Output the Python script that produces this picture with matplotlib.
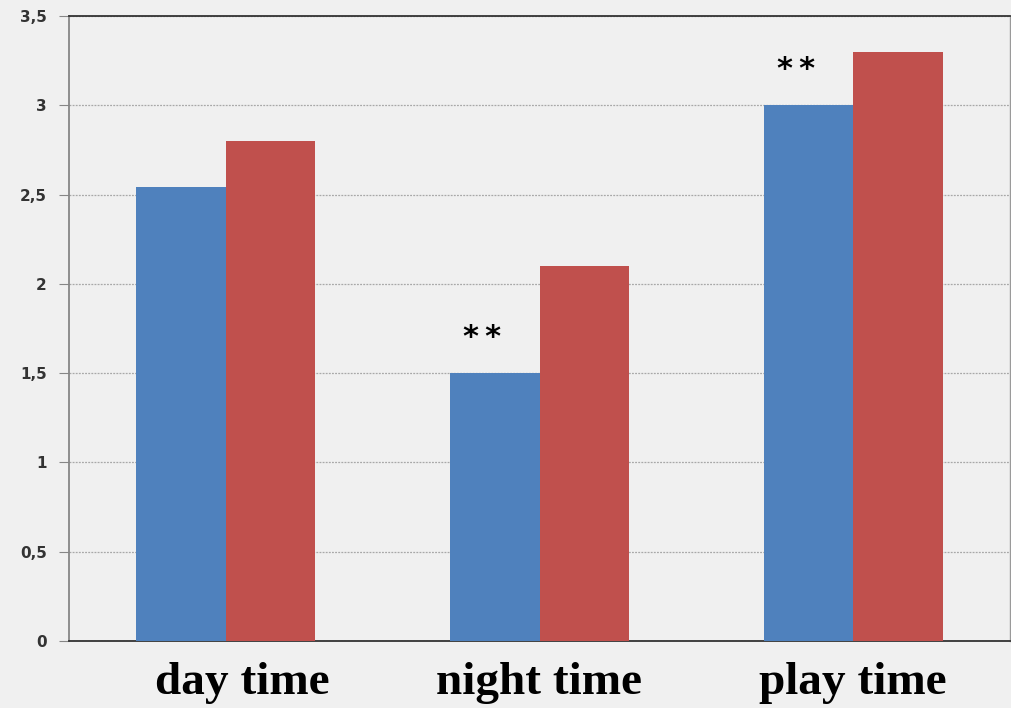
import matplotlib
matplotlib.use("Agg")
import matplotlib.pyplot as plt
import matplotlib.transforms as mtransforms
import numpy as np

# data
categories = ["day time", "night time", "play time"]
blue_vals = [2.54, 1.50, 3.00]
red_vals = [2.80, 2.10, 3.30]
stars = ["", "**", "**"]
yticks = [0, 0.5, 1, 1.5, 2, 2.5, 3, 3.5]
ytick_labels = ["0", "0,5", "1", "1,5", "2", "2,5", "3", "3,5"]

bg = "#f0f0f0"
fig = plt.figure(figsize=(10.12, 7.08), dpi=100, facecolor=bg)
ax = fig.add_axes([69 / 1012, 67 / 708, 941 / 1012, 625 / 708], facecolor=bg)

x = np.arange(len(categories))
w = 0.285
ax.bar(x - w / 2, blue_vals, w, color="#4f81bd", zorder=3)
ax.bar(x + w / 2, red_vals, w, color="#c0504d", zorder=3)

# significance stars over the blue bars
for i, s in enumerate(stars):
    if s:
        ax.text(x[i] - w / 2 - 0.04, blue_vals[i] + 0.2, "\u2009".join(s), ha="center", va="center",
                fontsize=22, fontweight="bold", color="black", zorder=4)

ax.set_xlim(-0.5, len(categories) - 0.5)
ax.set_ylim(0, 3.5)
ax.set_yticks(yticks)
ax.set_yticklabels(ytick_labels, fontsize=11, fontweight="bold", color="#333333")
ax.tick_params(axis="y", direction="out", length=7, color="#868686", pad=9)
ax.set_xticks(x)
ax.set_xticklabels(categories, fontsize=34, fontweight="bold",
                   family=["Liberation Serif", "DejaVu Serif"])
ax.tick_params(axis="x", length=0, pad=15)

# the first category label sits a bit right of its group in the reference
lab0 = ax.get_xticklabels()[0]
lab0.set_transform(lab0.get_transform() + mtransforms.ScaledTranslation(0.16, 0, fig.dpi_scale_trans))

ax.yaxis.grid(True, linestyle=(0, (1.5, 1)), color="#a8a8a8", linewidth=0.9, zorder=0)
ax.set_axisbelow(True)

ax.spines["left"].set_color("#868686")
ax.spines["left"].set_linewidth(1.3)
ax.spines["bottom"].set_color("#333333")
ax.spines["bottom"].set_linewidth(1.3)
ax.spines["top"].set_color("#333333")
ax.spines["top"].set_linewidth(1.3)
ax.spines["right"].set_color("#9a9a9a")
ax.spines["right"].set_linewidth(1.0)

fig.savefig("out.png", dpi=100, facecolor=bg)
